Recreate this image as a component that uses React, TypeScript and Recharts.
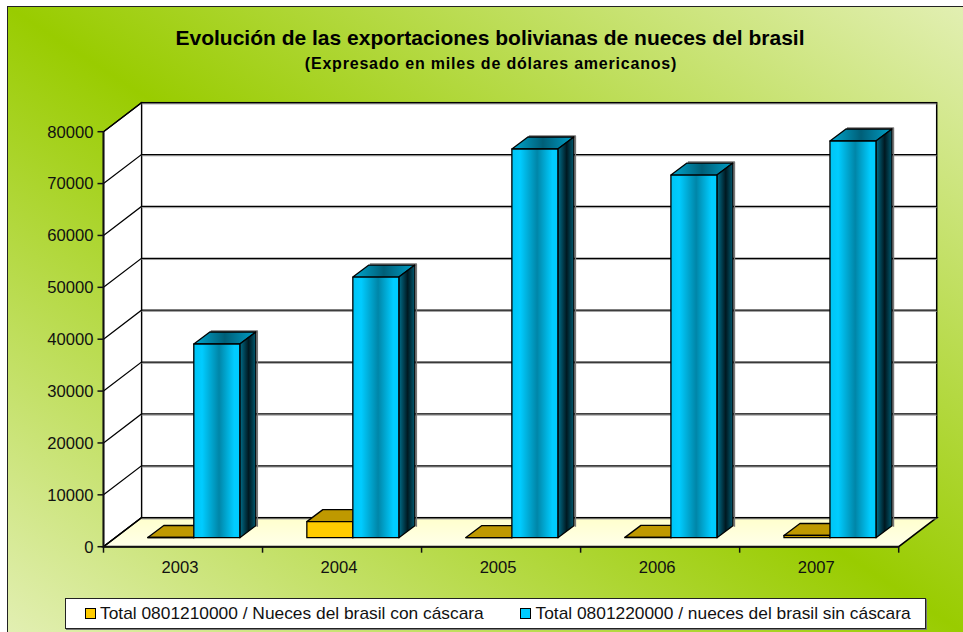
import { BarChart, Bar, XAxis, YAxis, CartesianGrid, Legend } from 'recharts';

const years = ['2003', '2004', '2005', '2006', '2007'];
const withShell = [40, 3100, 30, 60, 420];
const withoutShell = [37340, 50250, 74930, 69900, 76470];
const yTicks = [0, 10000, 20000, 30000, 40000, 50000, 60000, 70000, 80000];

const chartData = years.map((year, i) => ({
  year,
  withShell: withShell[i],
  withoutShell: withoutShell[i],
}));

const WIDTH = 963;
const HEIGHT = 632;
const LEFT = 103.5;
const RIGHT = 898.7;
const TOP = 131.7;
const BOTTOM = 546.7;
// depth of the fake 3D box
const WALL_DX = 38;
const WALL_DY = 29;
const BAR_SHIFT_X = 10.3;
const BAR_SHIFT_Y = 9;
const BAR_DX = 16;
const BAR_DY = 12;
const BAND = (RIGHT - LEFT) / years.length;

const INK = '#111';
const FONT = '"Liberation Sans", Arial, sans-serif';

function Box3D(props: any) {
  const { x, y, width, height, front, top, side, shadow } = props;
  const l = x + BAR_SHIFT_X;
  const r = l + width;
  const t = y - BAR_SHIFT_Y;
  const b = t + height;
  return (
    <g stroke="#000" strokeWidth={1.3} strokeLinejoin="round">
      {shadow && (
        <path
          d={`M${l + BAR_DX + 1},${t - BAR_DY - 1}H${r + BAR_DX + 1.5}V${b - BAR_DY + 1}`}
          fill="none"
          stroke="#777"
          strokeWidth={1.5}
        />
      )}
      <path
        d={`M${l},${t}L${l + BAR_DX},${t - BAR_DY}L${r + BAR_DX},${t - BAR_DY}L${r},${t}Z`}
        fill={top}
      />
      <path
        d={`M${r},${t}L${r + BAR_DX},${t - BAR_DY}L${r + BAR_DX},${b - BAR_DY}L${r},${b}Z`}
        fill={side}
      />
      <rect x={l} y={t} width={width} height={height} fill={front} />
    </g>
  );
}

// walls and floor sit in the grid layer so the lines can go on top of them
function Walls() {
  return (
    <g>
      <rect
        x={LEFT + WALL_DX}
        y={TOP - WALL_DY}
        width={RIGHT - LEFT}
        height={BOTTOM - TOP}
        fill="#fff"
        stroke="#000"
        strokeWidth={1.5}
      />
      <path
        d={`M${LEFT},${TOP}L${LEFT + WALL_DX},${TOP - WALL_DY}V${BOTTOM - WALL_DY}L${LEFT},${BOTTOM}Z`}
        fill="#fff"
        stroke="#000"
        strokeWidth={1.2}
      />
      <path
        d={`M${LEFT},${BOTTOM}L${LEFT + WALL_DX},${BOTTOM - WALL_DY}H${RIGHT + WALL_DX}L${RIGHT},${BOTTOM}Z`}
        fill="url(#floorFill)"
        stroke="#000"
        strokeWidth={1.5}
      />
    </g>
  );
}

function GridLine(props: any) {
  const { x1, x2, y1, index } = props;
  return (
    <g fill="none">
      {index === 0 && <Walls />}
      <path d={`M${x1 + WALL_DX},${y1 - WALL_DY + 1.2}H${x2 + WALL_DX}`} stroke="#999" strokeWidth={1} />
      <path
        d={`M${x1},${y1}L${x1 + WALL_DX},${y1 - WALL_DY}H${x2 + WALL_DX}`}
        stroke="#000"
        strokeWidth={1.2}
      />
    </g>
  );
}

function YearTick(props: any) {
  const { x, y, payload, index } = props;
  const left = x - BAND / 2;
  return (
    <g>
      <path d={`M${left},${BOTTOM}v6`} stroke={INK} strokeWidth={1.5} />
      {index === years.length - 1 && <path d={`M${left + BAND},${BOTTOM}v6`} stroke={INK} strokeWidth={1.5} />}
      <text x={x - 3} y={y + 18} textAnchor="middle" fontSize={16.6} fill={INK} fontFamily={FONT}>
        {payload.value}
      </text>
    </g>
  );
}

function LegendBox() {
  const swatch = (color: string) => ({
    display: 'inline-block',
    width: 9,
    height: 9,
    background: color,
    border: '1px solid #000',
    marginRight: 4.5,
  });
  return (
    <div
      style={{
        boxSizing: 'border-box',
        width: 861,
        height: 31,
        background: '#fff',
        border: '1.5px solid #222',
        boxShadow: '1px 1px 0 #777',
        display: 'flex',
        alignItems: 'center',
        paddingLeft: 18.5,
        fontFamily: FONT,
        fontSize: 17.35,
        color: INK,
        whiteSpace: 'nowrap',
      }}
    >
      <span style={swatch('#ffcc00')} />
      <span style={{ width: 420 }}>Total 0801210000 / Nueces del brasil con cáscara</span>
      <span style={swatch('#00ccff')} />
      <span>Total 0801220000 / nueces del brasil sin cáscara</span>
    </div>
  );
}

export default function App() {
  return (
    <div style={{ position: 'absolute', left: 0, top: 0, width: WIDTH, height: HEIGHT, background: '#fff' }}>
      <div
        style={{
          position: 'absolute',
          left: 7,
          top: 5.5,
          right: 0,
          bottom: 0,
          borderLeft: '1.5px solid #222',
          borderTop: '1.5px solid #222',
          background: 'linear-gradient(to top right, #e2efb2, #99cc00, #e2efb2)',
        }}
      />
      <BarChart
        width={WIDTH}
        height={HEIGHT}
        data={chartData}
        barSize={46}
        barGap={0}
        barCategoryGap={0}
        margin={{ top: TOP, left: LEFT - 60, right: WIDTH - RIGHT, bottom: HEIGHT - BOTTOM - 40 }}
      >
        <defs>
          <linearGradient id="floorFill" x1="0" y1="0" x2="0" y2="1">
            <stop offset="0%" stopColor="#ffffcc" />
            <stop offset="100%" stopColor="#ffffea" />
          </linearGradient>
          <linearGradient id="blueFront" x1="0" y1="0" x2="1" y2="0">
            <stop offset="0%" stopColor="#00c4f4" />
            <stop offset="18%" stopColor="#00ccff" />
            <stop offset="55%" stopColor="#0086a8" />
            <stop offset="88%" stopColor="#00ccff" />
            <stop offset="100%" stopColor="#00ccff" />
          </linearGradient>
          <linearGradient id="blueSide" x1="0" y1="0" x2="1" y2="0">
            <stop offset="0%" stopColor="#006f8c" />
            <stop offset="55%" stopColor="#001820" />
            <stop offset="100%" stopColor="#005a70" />
          </linearGradient>
          <linearGradient id="blueTop" x1="0" y1="0" x2="1" y2="0">
            <stop offset="0%" stopColor="#00a8d0" />
            <stop offset="50%" stopColor="#005f78" />
            <stop offset="100%" stopColor="#00a0c8" />
          </linearGradient>
        </defs>

        <text x={490} y={45} textAnchor="middle" fontSize={21} fontWeight="bold" fontFamily={FONT} fill="#000">
          Evolución de las exportaciones bolivianas de nueces del brasil
        </text>
        <text
          x={491}
          y={69}
          textAnchor="middle"
          fontSize={16}
          letterSpacing={0.8}
          fontWeight="bold"
          fontFamily={FONT}
          fill="#000"
        >
          (Expresado en miles de dólares americanos)
        </text>

        <CartesianGrid vertical={false} horizontal={(p: any) => <GridLine key={p.key} {...p} />} />

        <XAxis
          dataKey="year"
          height={40}
          interval={0}
          tickLine={false}
          axisLine={{ stroke: INK, strokeWidth: 2 }}
          tick={<YearTick />}
        />
        <YAxis
          width={60}
          domain={[0, 80000]}
          ticks={yTicks}
          interval={0}
          tickSize={6}
          tickMargin={4}
          tickLine={{ stroke: INK, strokeWidth: 1.5 }}
          axisLine={{ stroke: INK, strokeWidth: 2 }}
          tick={{ fill: INK, fontSize: 16.6, fontFamily: FONT }}
        />

        <Bar
          dataKey="withShell"
          name="Total 0801210000 / Nueces del brasil con cáscara"
          isAnimationActive={false}
          shape={(p: any) => <Box3D {...p} front="#ffcc00" top="#bf9900" side="#806600" />}
        />
        <Bar
          dataKey="withoutShell"
          name="Total 0801220000 / nueces del brasil sin cáscara"
          isAnimationActive={false}
          shape={(p: any) => (
            <Box3D {...p} front="url(#blueFront)" top="url(#blueTop)" side="url(#blueSide)" shadow />
          )}
        />

        <Legend
          layout="horizontal"
          verticalAlign="middle"
          align="center"
          content={<LegendBox />}
          wrapperStyle={{ left: 65, top: 598, width: 861, height: 31, bottom: 'auto' }}
        />
      </BarChart>
    </div>
  );
}
